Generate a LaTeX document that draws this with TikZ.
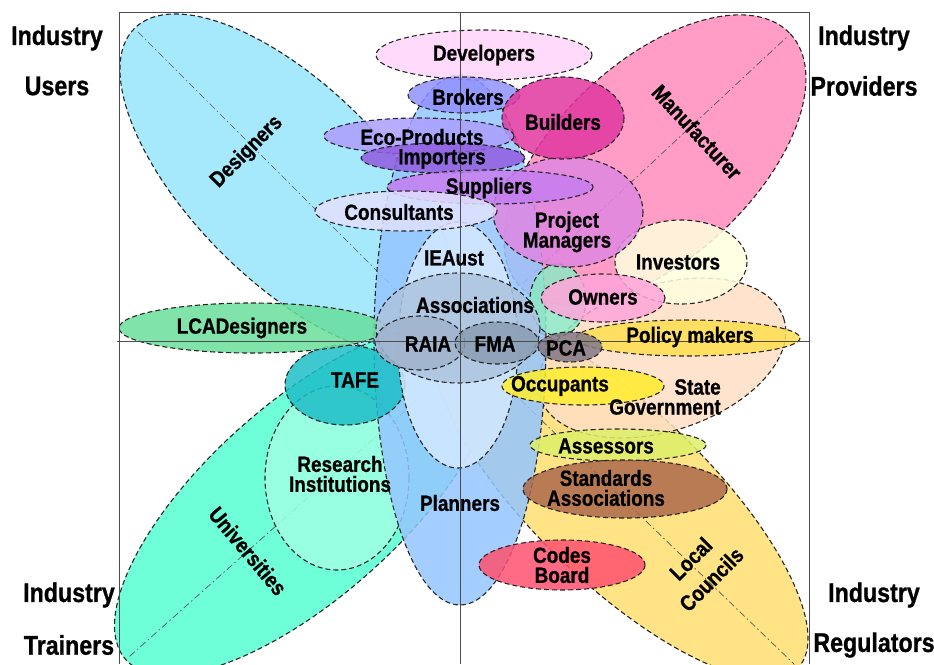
\documentclass[tikz,border=0pt]{standalone}
\usepackage{fontspec}
\setmainfont{Liberation Sans}[FakeStretch=0.86, BoldFeatures={FakeBold=0.8}]
\usetikzlibrary{calc}

\definecolor{desgcol}{RGB}{150,228,252}
\definecolor{manucol}{RGB}{255,140,188}
\definecolor{univcol}{RGB}{85,255,210}
\definecolor{localcol}{RGB}{255,222,110}
\definecolor{statecol}{RGB}{255,222,196}
\definecolor{investcol}{RGB}{255,255,222}
\definecolor{plancol}{RGB}{148,198,255}
\definecolor{researchcol}{RGB}{160,255,225}
\definecolor{tafecol}{RGB}{30,190,200}
\definecolor{lcacol}{RGB}{105,222,155}
\definecolor{mintcol}{RGB}{140,232,195}
\definecolor{ieaustcol}{RGB}{212,232,255}
\definecolor{assoccol}{RGB}{172,196,222}
\definecolor{raiacol}{RGB}{160,180,205}
\definecolor{fmacol}{RGB}{138,158,180}
\definecolor{devcol}{RGB}{255,212,250}
\definecolor{brokcol}{RGB}{145,145,255}
\definecolor{buildcol}{RGB}{225,55,160}
\definecolor{pmcol}{RGB}{222,135,225}
\definecolor{ecocol}{RGB}{172,158,255}
\definecolor{impcol}{RGB}{145,92,225}
\definecolor{supcol}{RGB}{198,125,240}
\definecolor{conscol}{RGB}{225,225,255}
\definecolor{ownercol}{RGB}{255,165,218}
\definecolor{policycol}{RGB}{255,222,80}
\definecolor{pcacol}{RGB}{130,120,135}
\definecolor{occcol}{RGB}{255,238,45}
\definecolor{assesscol}{RGB}{222,240,105}
\definecolor{stdcol}{RGB}{172,105,75}
\definecolor{codescol}{RGB}{255,80,110}

\tikzset{
  blob/.style={draw=black!85, dash pattern=on 5pt off 3pt, line width=1.1pt, fill opacity=0.85},
  axisline/.style={black!65, dash pattern=on 7pt off 3pt on 1.5pt off 3pt, line width=0.7pt},
  lbl/.style={font=\bfseries\fontsize{22}{20}\selectfont, align=center, inner sep=0pt},
  side/.style={font=\bfseries\fontsize{27}{30}\selectfont, inner sep=0pt},
  frame/.style={black!70, line width=0.8pt}
}

\begin{document}
\begin{tikzpicture}[x=1pt, y=-1pt]
  \useasboundingbox (0,0) rectangle (934,664);
  \clip (0,0) rectangle (934,664);

  % four big petals
  \draw[blob, fill=desgcol, rotate around={-45:(290,184)}] (290,184) ellipse (220 and 97);
  \draw[axisline, rotate around={-45:(290,184)}] (75,184) -- (505,184);
  \draw[blob, fill=manucol, rotate around={43:(655,160)}] (655,160) ellipse (185 and 98);
  \draw[axisline, rotate around={43:(655,160)}] (475,160) -- (835,160);
  \draw[blob, fill=univcol, rotate around={41.7:(305,500)}] (305,500) ellipse (240 and 97);
  \draw[axisline, rotate around={41.7:(305,500)}] (70,500) -- (540,500);
  \draw[blob, fill=localcol, rotate around={-44:(621,497)}] (621,497) ellipse (246 and 87);
  \draw[axisline, rotate around={-44:(621,497)}] (380,497) -- (862,497);

  % right side
  \draw[blob, fill=statecol, rotate around={18:(662,358)}] (662,358) ellipse (128 and 73);
  \draw[blob, fill=investcol] (681,262) ellipse (66 and 42);

  % left and middle
  \draw[blob, fill=researchcol] (337,478) ellipse (72 and 92);
  \draw[blob, fill=plancol] (460,340) ellipse (86 and 265);
  \draw[blob, fill=tafecol] (345,385) ellipse (60 and 40);
  \draw[blob, fill=lcacol] (252,328) ellipse (133 and 25);
  \draw[blob, fill=mintcol] (558,300) ellipse (28 and 36);
  \draw[blob, fill=ieaustcol] (458,345) ellipse (60 and 123);
  \draw[blob, fill=assoccol] (458,328) ellipse (82 and 55);
  \draw[blob, fill=raiacol] (420,343) ellipse (45 and 27);
  \draw[blob, fill=fmacol] (497,343) ellipse (42 and 21);

  % top stack
  \draw[blob, fill=devcol] (484,55) ellipse (108 and 25);
  \draw[blob, fill=brokcol] (464,95) ellipse (56 and 18);
  \draw[blob, fill=pmcol] (568,212) ellipse (75 and 55);
  \draw[blob, fill=buildcol] (563,118) ellipse (61 and 41);
  \draw[blob, fill=ecocol] (419,136) ellipse (95 and 18);
  \draw[blob, fill=impcol] (443,158) ellipse (82 and 15);
  \draw[blob, fill=supcol] (490,187) ellipse (103 and 17);
  \draw[blob, fill=conscol] (406,211) ellipse (91 and 20);

  % lower right stack
  \draw[blob, fill=ownercol] (603,298) ellipse (62 and 24);
  \draw[blob, fill=policycol] (688,338) ellipse (112 and 18);
  \draw[blob, fill=pcacol] (570,347) ellipse (32 and 15);
  \draw[blob, fill=occcol] (583,386) ellipse (81 and 19);
  \draw[blob, fill=assesscol] (618,445) ellipse (88 and 16);
  \draw[blob, fill=stdcol] (625,489) ellipse (102 and 29);
  \draw[blob, fill=codescol] (562,565) ellipse (83 and 25);

  % frame and axes
  \draw[frame] (119,664) -- (119,12) -- (809,12) -- (809,664);
  \draw[frame] (460,12) -- (460,664);
  \draw[frame] (117,341) -- (809,341);

  % labels
  \node[lbl, rotate=45] (designers) at (247,152) {Designers};
  \node[lbl, rotate=-47] (manufacturer) at (697,132) {Manufacturer};
  \node[lbl, rotate=-50] (universities) at (248,551) {Universities};
  \node[lbl, rotate=45, font=\bfseries\fontsize{22}{29}\selectfont] (councils) at (701,569) {Local\\Councils};
  \node[lbl] (developers) at (484,55) {Developers};
  \node[lbl] (brokers) at (468,97) {Brokers};
  \node[lbl] (builders) at (563,122) {Builders};
  \node[lbl] (ecoproducts) at (422,137) {Eco-Products};
  \node[lbl] (importers) at (442,159) {Importers};
  \node[lbl] (suppliers) at (489,188) {Suppliers};
  \node[lbl] (consultants) at (399,212) {Consultants};
  \node[lbl] (managers) at (567,232) {Project\\Managers};
  \node[lbl] (ieaust) at (454,258) {IEAust};
  \node[lbl] (investors) at (678,262) {Investors};
  \node[lbl] (associations) at (475,305) {Associations};
  \node[lbl] (owners) at (603,297) {Owners};
  \node[lbl] (lcadesigners) at (242,328) {LCADesigners};
  \node[lbl] (policy) at (690,337) {Policy makers};
  \node[lbl] (raia) at (428,344) {RAIA};
  \node[lbl] (fma) at (495,344) {FMA};
  \node[lbl] (pca) at (566,348) {PCA};
  \node[lbl] (tafe) at (355,380) {TAFE};
  \node[lbl] (occupants) at (560,386) {Occupants};
  \node[lbl, align=right] (stategov) at (665,397) {State\\Government};
  \node[lbl] (assessors) at (606,446) {Assessors};
  \node[lbl] (standards) at (606,488) {Standards\\Associations};
  \node[lbl] (research) at (340,474) {Research\\Institutions};
  \node[lbl] (planners) at (460,503) {Planners};
  \node[lbl] (codes) at (562,565) {Codes\\Board};

  % corner captions
  \node[side] (usersA) at (57,38) {Industry};
  \node[side] (usersB) at (57,86) {Users};
  \node[side] (provA) at (864,38) {Industry};
  \node[side] (provB) at (864,86) {Providers};
  \node[side] (trainA) at (69,595) {Industry};
  \node[side] (trainB) at (69,645) {Trainers};
  \node[side] (regA) at (874,595) {Industry};
  \node[side] (regB) at (874,645) {Regulators};
\end{tikzpicture}
\end{document}
